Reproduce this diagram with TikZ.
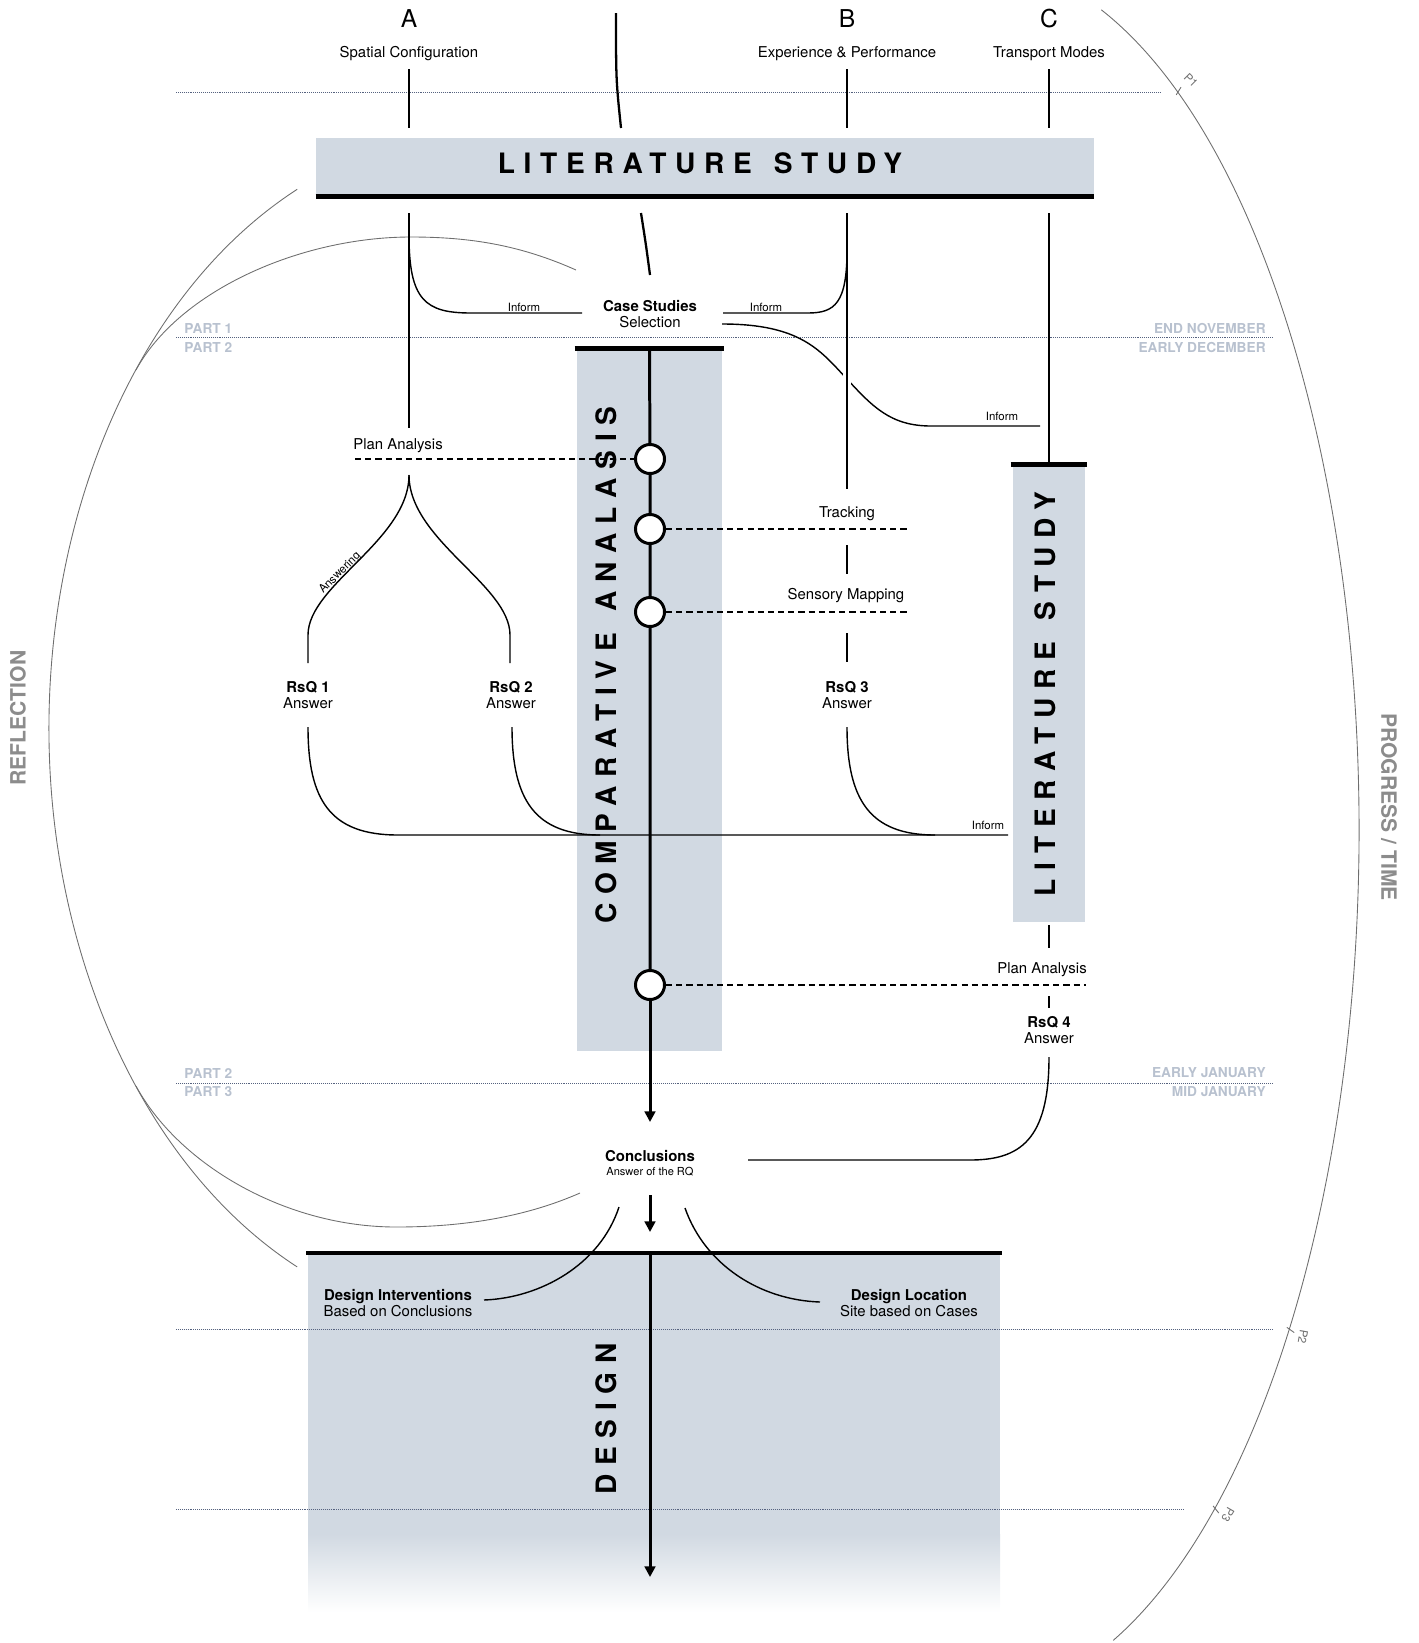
\documentclass[tikz,border=0pt]{standalone}
\usepackage{fontspec}
\setmainfont{TeX Gyre Heros}
\newfontfamily\titlefont[LetterSpace=31]{TeX Gyre Heros}
\usetikzlibrary{arrows.meta,positioning}

\definecolor{boxfill}{RGB}{209,217,226}
\definecolor{partgray}{RGB}{184,193,207}
\definecolor{sidegray}{RGB}{140,140,140}
\definecolor{arcgray}{RGB}{110,110,110}
\definecolor{dotblue}{RGB}{85,98,127}

\newlength{\du}
\setlength{\du}{0.02cm}

\tikzset{
  thinline/.style={line width=0.8pt},
  thickline/.style={line width=1.7pt},
  barline/.style={line width=2.8pt},
  dashline/.style={line width=0.8pt, dash pattern=on 3.5pt off 2.3pt},
  dotline/.style={draw=dotblue, line width=0.5pt, dash pattern=on 0.5pt off 0.6pt},
  arcline/.style={draw=arcgray, line width=0.5pt},
  tip/.style={-{Triangle[length=6pt,width=6pt]}},
  lbl/.style={inner sep=0pt, align=center, font=\fontsize{8.5}{9.5}\selectfont},
  sml/.style={inner sep=0pt, font=\fontsize{6.5}{7}\selectfont},
  head/.style={inner sep=0pt, font=\fontsize{14}{14}\selectfont},
  part/.style={inner sep=0pt, text=partgray, font=\bfseries\fontsize{7.8}{9}\selectfont},
  side/.style={inner sep=0pt, text=sidegray, font=\bfseries\fontsize{12}{12}\selectfont},
  title/.style={inner sep=0pt, font=\titlefont\bfseries\fontsize{16}{16}\selectfont},
  box/.style={fill=boxfill, inner sep=0pt},
  knot/.style={circle, draw, fill=white, line width=1.7pt, minimum size=29\du, inner sep=0pt},
  ptick/.style={inner sep=0pt, text=arcgray, font=\fontsize{6.5}{7}\selectfont},
}

\begin{document}
\begin{tikzpicture}
\pgftransformxscale{1.000000}
\pgftransformyscale{-1.000000}
\useasboundingbox (0\du,0\du) rectangle (1418\du,1643\du);

% boxes
\node[box, minimum width=778\du, minimum height=58\du] (ls) at (705\du,167\du) {};
\node[box, minimum width=145\du, minimum height=702\du] (ca) at (649.5\du,700\du) {};
\node[box, minimum width=72\du, minimum height=457\du] (ls2) at (1049\du,693.5\du) {};
\fill[boxfill] (308\du,1253\du) rectangle (1000\du,1535\du);
\shade[top color=boxfill, bottom color=white] (308\du,1534\du) rectangle (1000\du,1612\du);

% time lines
\draw[dotline] (176\du,92\du) -- (1161\du,92\du);
\draw[dotline] (176\du,337\du) -- (1273\du,337\du);
\draw[dotline] (176\du,1083\du) -- (1273\du,1083\du);
\draw[dotline] (176\du,1329\du) -- (1273\du,1329\du);
\draw[dotline] (176\du,1509\du) -- (1184\du,1509\du);

\node[part, anchor=west] (part1) at (184\du,328\du) {PART 1};
\node[part, anchor=west] (part2) at (184\du,347\du) {PART 2};
\node[part, anchor=west] (part2b) at (184\du,1073\du) {PART 2};
\node[part, anchor=west] (part3) at (184\du,1092\du) {PART 3};
\node[part, anchor=east] (endnov) at (1266\du,328\du) {END NOVEMBER};
\node[part, anchor=east] (earlydec) at (1266\du,347\du) {EARLY DECEMBER};
\node[part, anchor=east] (earlyjan) at (1266\du,1073\du) {EARLY JANUARY};
\node[part, anchor=east] (midjan) at (1266\du,1092\du) {MID JANUARY};

% side arcs
\draw[arcline] (297.2\du,189.3\du) arc[start angle=244.9, end angle=115.1, x radius=431\du, y radius=595\du];
\draw[arcline] (576\du,270\du) .. controls (520\du,245\du) and (470\du,237\du) .. (411\du,237\du)
  .. controls (300\du,237\du) and (179\du,291\du) .. (136\du,370\du);
\draw[arcline] (580\du,1193\du) .. controls (530\du,1215\du) and (470\du,1227\du) .. (396\du,1227\du)
  .. controls (286\du,1227\du) and (179\du,1165\du) .. (136\du,1086\du);
\node[side, rotate=90] (refl) at (18\du,718\du) {REFLECTION};

\draw[arcline] (1101.3\du,9.8\du) arc[start angle=-70.9, end angle=69, x radius=383\du, y radius=868\du];
\coordinate (t1) at (1177.8\du,92.3\du);
\coordinate (t2) at (1289.3\du,1329.1\du);
\coordinate (t3) at (1215\du,1508.3\du);
\draw[arcline] (t1) ++(121.8:3\du) -- ++(-58.2:9\du);
\draw[arcline] (t2) ++(215.1:3\du) -- ++(35.1:9\du);
\draw[arcline] (t3) ++(231.4:3\du) -- ++(51.4:9\du);
\node[ptick, rotate=-45] (lp1) at (1191\du,80\du) {P1};
\node[ptick, rotate=-100] (lp2) at (1303\du,1337\du) {P2};
\node[ptick, rotate=-120] (lp3) at (1228\du,1515\du) {P3};
\node[side, rotate=-90] (prog) at (1389\du,807\du) {PROGRESS / TIME};

% headings
\node[head] (A) at (409\du,19\du) {A};
\node[head] (B) at (847\du,19\du) {B};
\node[head] (C) at (1049\du,19\du) {C};
\node[lbl] (Asub) at (409\du,54\du) {Spatial Configuration};
\node[lbl] (Bsub) at (847\du,54\du) {Experience \& Performance};
\node[lbl] (Csub) at (1049\du,54\du) {Transport Modes};
\coordinate (a0) at (409\du,69\du);
\coordinate (a1) at (409\du,128\du);
\coordinate (b0) at (847\du,69\du);
\coordinate (b1) at (847\du,128\du);
\coordinate (c0) at (1049\du,69\du);
\coordinate (c1) at (1049\du,128\du);
\draw[thinline] (a0) -- (a1);
\draw[thinline] (b0) -- (b1);
\draw[thinline] (c0) -- (c1);
\coordinate (m0) at (616\du,13\du);
\coordinate (m1) at (621\du,128\du);
\draw[line width=1.3pt] (m0) .. controls (616\du,80\du) .. (m1);

% literature study
\node[title] (lstext) at (700\du,163\du) {LITERATURE\hspace{3pt} STUDY};
\draw[barline] (ls.south west) -- (ls.south east);

% case studies
\node[lbl] (cases) at (650\du,314\du) {\textbf{Case Studies}\\Selection};
\coordinate (m2) at (641\du,213\du);
\coordinate (m3) at (650\du,275\du);
\draw[line width=1.3pt] (m2) .. controls (646\du,245\du) .. (m3);
\coordinate (a2) at (409\du,213\du);
\coordinate (a3) at (409\du,428\du);
\coordinate (b2) at (847\du,213\du);
\coordinate (b3) at (847\du,489\du);
\coordinate (c2) at (1049\du,213\du);
\coordinate (a-inf) at (409\du,235\du);
\coordinate (b-inf) at (847\du,250\du);
\coordinate (cs-w) at (582\du,313\du);
\coordinate (cs-e) at (723\du,313\du);
\coordinate (cs-e2) at (722\du,324\du);
\coordinate (ls2-inf) at (1040\du,426\du);
\draw[thinline] (a-inf) .. controls (409\du,300\du) and (425\du,313\du) .. (471\du,313\du) -- (cs-w);
\draw[thinline] (b-inf) .. controls (847\du,303\du) and (835\du,313\du) .. (808\du,313\du) -- (cs-e);
\draw[thinline] (cs-e2) .. controls (800\du,324\du) and (820\du,350\du) .. (846\du,378\du)
  .. controls (872\du,406\du) and (890\du,426\du) .. (931\du,426\du) -- (ls2-inf);
\node[sml] (inf1) at (524\du,307\du) {Inform};
\node[sml] (inf2) at (766\du,307\du) {Inform};
\node[sml] (inf3) at (1002\du,416\du) {Inform};
\draw[white, line width=4pt] (847\du,362\du) -- (847\du,390\du);
\draw[thinline] (a2) -- (a3);
\draw[thinline] (b2) -- (b3);
\draw[thinline] (c2) -- (ls2.north);

% comparative analysis
\node[title, rotate=90] (catext) at (606\du,665\du) {COMPARATIVE\hspace{3pt} ANALASIS};
\draw[barline] ([xshift=-2\du]ca.north west) -- ([xshift=2\du]ca.north east);
\node[knot] (k1) at (650\du,459\du) {};
\node[knot] (k2) at (650\du,529\du) {};
\node[knot] (k3) at (650\du,612\du) {};
\node[knot] (k4) at (650\du,985\du) {};
\draw[thickline] (ca.north) -- (k1) -- (k2) -- (k3) -- (k4);
\coordinate (tip1) at (650\du,1122\du);
\draw[thickline, tip] (k4) -- (tip1);

% A branch
\node[lbl] (pa1) at (398\du,446\du) {Plan Analysis};
\coordinate (pa1-w) at (355\du,459\du);
\draw[dashline] (pa1-w) -- (k1);
\coordinate (fork) at (409\du,475\du);
\coordinate (r1-top) at (308\du,663\du);
\coordinate (r2-top) at (510\du,663\du);
\draw[thinline] (fork) .. controls (409\du,540\du) and (308\du,585\du) .. (308\du,635\du) -- (r1-top);
\draw[thinline] (fork) .. controls (409\du,540\du) and (510\du,585\du) .. (510\du,635\du) -- (r2-top);
\node[sml, rotate=45] (answ) at (340\du,573\du) {Answering};
\node[lbl] (rsq1) at (308\du,695\du) {\textbf{RsQ 1}\\Answer};
\node[lbl] (rsq2) at (511\du,695\du) {\textbf{RsQ 2}\\Answer};

% B branch
\node[lbl] (track) at (847\du,514\du) {Tracking};
\node[lbl] (senmap) at (846\du,596\du) {Sensory Mapping};
\coordinate (track-e) at (907\du,529\du);
\coordinate (senmap-e) at (907\du,612\du);
\draw[dashline] (k2) -- (track-e);
\draw[dashline] (k3) -- (senmap-e);
\coordinate (b4) at (847\du,545\du);
\coordinate (b5) at (847\du,574\du);
\coordinate (b6) at (847\du,633\du);
\coordinate (b7) at (847\du,662\du);
\draw[thinline] (b4) -- (b5);
\draw[thinline] (b6) -- (b7);
\node[lbl] (rsq3) at (847\du,695\du) {\textbf{RsQ 3}\\Answer};

% answers inform the second literature study
\coordinate (r1-bot) at (308\du,727\du);
\coordinate (r2-bot) at (512\du,727\du);
\coordinate (r3-bot) at (847\du,727\du);
\coordinate (ls2-inf2) at (1008\du,835\du);
\draw[thinline] (r1-bot) .. controls (308\du,800\du) and (330\du,835\du) .. (398\du,835\du) -- (ls2-inf2);
\draw[thinline] (r2-bot) .. controls (512\du,800\du) and (535\du,835\du) .. (600\du,835\du);
\draw[thinline] (r3-bot) .. controls (847\du,800\du) and (870\du,835\du) .. (935\du,835\du);
\node[sml] (inf4) at (988\du,825\du) {Inform};

% second literature study
\node[title, rotate=90] (ls2text) at (1045\du,694\du) {LITERATURE\hspace{3pt} STUDY};
\draw[barline] ([xshift=-2\du]ls2.north west) -- ([xshift=2\du]ls2.north east);
\coordinate (c3) at (1049\du,925\du);
\coordinate (c4) at (1049\du,948\du);
\coordinate (c5) at (1049\du,996\du);
\coordinate (c6) at (1049\du,1008\du);
\draw[thinline] (c3) -- (c4);
\draw[thinline] (c5) -- (c6);
\node[lbl] (pa2) at (1042\du,970\du) {Plan Analysis};
\coordinate (pa2-e) at (1086\du,985\du);
\draw[dashline] (k4) -- (pa2-e);
\node[lbl] (rsq4) at (1049\du,1030\du) {\textbf{RsQ 4}\\Answer};
\coordinate (r4-bot) at (1049\du,1057\du);
\coordinate (concl-e) at (748\du,1160\du);
\draw[thinline] (r4-bot) .. controls (1049\du,1140\du) and (1020\du,1160\du) .. (970\du,1160\du) -- (concl-e);

% conclusions and design
\node[lbl] (concl) at (650\du,1163\du) {\textbf{Conclusions}\\[-1.5pt]{\fontsize{6.3}{7}\selectfont Answer of the RQ}};
\coordinate (c-top) at (650\du,1195\du);
\coordinate (tip2) at (650\du,1232\du);
\draw[thickline, tip] (c-top) -- (tip2);
\draw[barline] (306\du,1253\du) -- (1002\du,1253\du);
\coordinate (d0) at (650\du,1253\du);
\coordinate (tip3) at (650\du,1577\du);
\draw[thickline, tip] (d0) -- (tip3);
\node[title, rotate=90] (dtext) at (606\du,1419\du) {DESIGN};
\node[lbl] (dint) at (398\du,1303\du) {\textbf{Design Interventions}\\Based on Conclusions};
\node[lbl] (dloc) at (909\du,1303\du) {\textbf{Design Location}\\Site based on Cases};
\coordinate (cl-l) at (619\du,1207\du);
\coordinate (cl-r) at (685\du,1208\du);
\coordinate (dint-e) at (484\du,1300\du);
\coordinate (dloc-w) at (820\du,1302\du);
\draw[thinline] (cl-l) .. controls (600\du,1265\du) and (540\du,1298\du) .. (dint-e);
\draw[thinline] (cl-r) .. controls (705\du,1265\du) and (760\du,1300\du) .. (dloc-w);
\end{tikzpicture}
\end{document}
